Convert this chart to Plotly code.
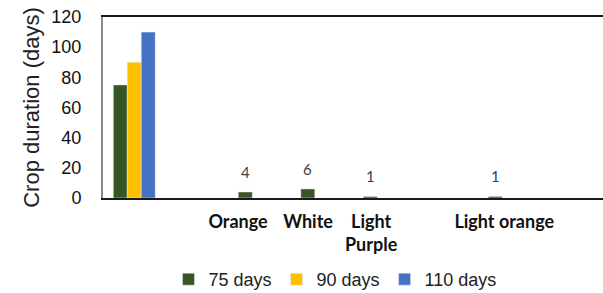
import plotly.graph_objects as go

# Category slots (numeric positions 0..7) and their labels
positions = [0, 1, 2, 3, 4, 5, 6, 7]
tick_positions = [1.66, 2.78, 3.79, 5.92]
tick_labels = ["Orange", "White", "Light<br>Purple", "Light orange"]

series_names = ["75 days", "90 days", "110 days"]
vals_75 = [75, None, 4, 6, 1, None, 1, None]
vals_90 = [90, None, None, None, None, None, None, None]
vals_110 = [110, None, None, None, None, None, None, None]
labels_75 = ["", "", "4", "6", "1", "", "1", ""]

colors = ["#375623", "#FFC000", "#4472C4"]
SANS = "Liberation Sans"
BARGAP = 0.33

fig = go.Figure()
fig.add_trace(go.Bar(x=positions, y=vals_75, name=series_names[0], marker_color=colors[0]))
fig.add_trace(go.Bar(x=positions, y=vals_90, name=series_names[1], marker_color=colors[1]))
fig.add_trace(go.Bar(x=positions, y=vals_110, name=series_names[2], marker_color=colors[2]))

# value labels above the 75-day bars (first bar of each group)
bar_w = (1 - BARGAP) / 3
for p, v, t in zip(positions, vals_75, labels_75):
    if t:
        fig.add_annotation(x=p - bar_w, y=v, text=t, showarrow=False, xref="x", yref="y",
                           yanchor="bottom", yshift=9,
                           font=dict(family="Lato", size=15, color="#404040"))

fig.update_layout(
    width=603, height=293,
    margin=dict(l=103, r=0, t=17, b=95, autoexpand=False),
    paper_bgcolor="white", plot_bgcolor="white",
    barmode="group", bargap=BARGAP, bargroupgap=0,
    font=dict(family=SANS, color="#222"),
    showlegend=True,
    legend=dict(orientation="h", x=0.464, xanchor="center", y=-0.45, yanchor="middle",
                font=dict(size=18, family=SANS, color="#222"),
                itemwidth=30, tracegroupgap=0),
    xaxis=dict(
        range=[-0.5, 7.5], tickmode="array", tickvals=tick_positions, ticktext=tick_labels,
        tickangle=0, ticks="", showgrid=False, zeroline=False, automargin=False,
        showline=True, mirror=True, linecolor="#1a1a1a", linewidth=2,
        tickfont=dict(family="Lato", size=18, color="#111", weight="bold"),
        ticklabelstandoff=6,
    ),
    yaxis=dict(
        range=[0, 120], tickvals=[0, 20, 40, 60, 80, 100, 120], ticks="", automargin=False,
        showgrid=False, zeroline=False, showline=True, linecolor="#8c8c8c", linewidth=2,
        tickfont=dict(size=18, family=SANS, color="#111"), ticklabelstandoff=16,
        title=dict(text="Crop duration (days)", font=dict(size=22, family=SANS, color="#222"), standoff=6),
    ),
)

fig.write_html("out.html", config={"displayModeBar": False},
               post_script="document.body.style.margin='0';document.body.style.overflow='hidden';")
